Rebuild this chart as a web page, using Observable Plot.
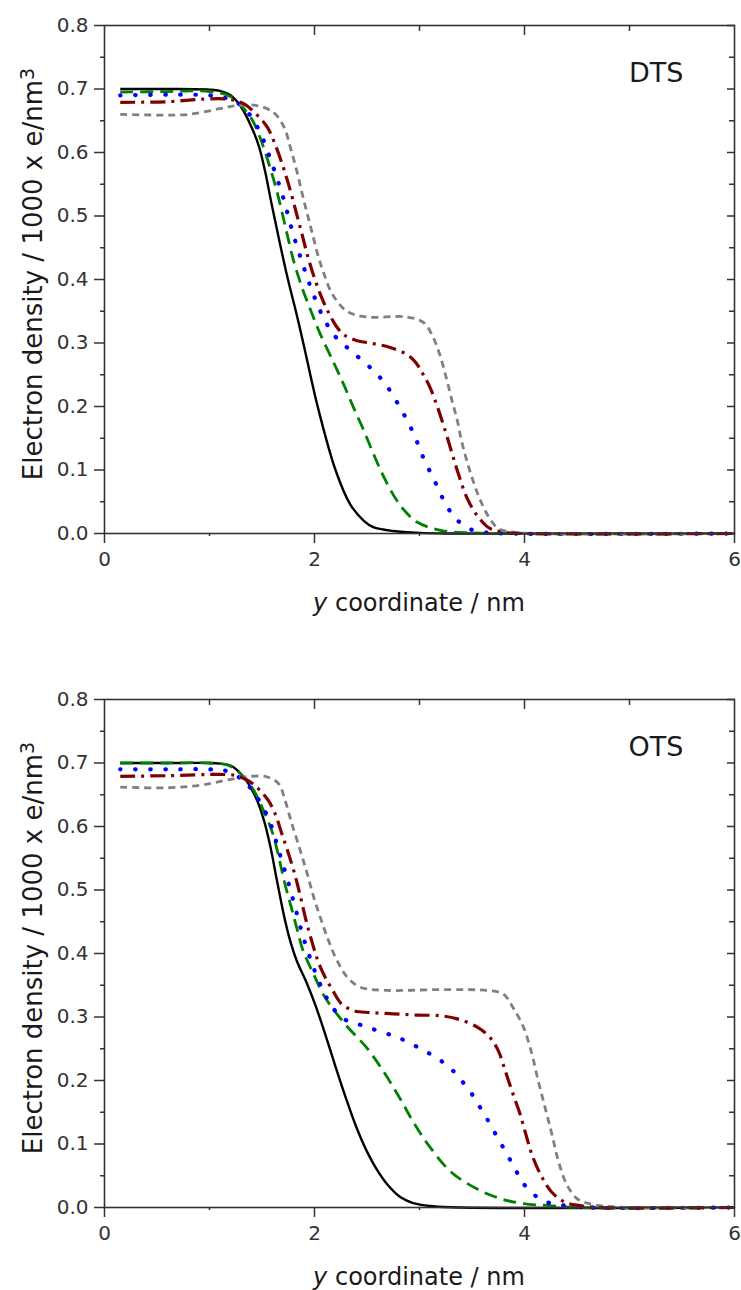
<!DOCTYPE html>
<html>
<head>
<meta charset="utf-8">
<script src="https://cdn.jsdelivr.net/npm/d3@7"></script>
<script src="https://cdn.jsdelivr.net/npm/@observablehq/plot@0.6"></script>
<style>
  html, body { margin: 0; padding: 0; background: #fff; }
  svg { display: block; }
</style>
</head>
<body>
<div id="chart"></div>
<script>
// ---------- tick values ----------
const xMajorTicks = [0, 2, 4, 6];
const xMinorTicks = [1, 3, 5];
const yMajorTicks = [0, 0.1, 0.2, 0.3, 0.4, 0.5, 0.6, 0.7, 0.8];
const yMinorTicks = [0.05, 0.15, 0.25, 0.35, 0.45, 0.55, 0.65, 0.75];
const panelLabels = ["DTS", "OTS"];
const xTitle = ["y", " coordinate / nm"];
const yTitle = ["Electron density / 1000 x e/nm", "3"];

// ---------- DTS panel: [y coordinate (nm), electron density] ----------
const dtsSolid = [[0.15,0.700],[0.6,0.700],[1.0,0.699],[1.1,0.697],[1.2,0.690],[1.3,0.672],[1.4,0.640],[1.47,0.610],[1.53,0.570],[1.59,0.520],[1.66,0.465],[1.74,0.405],[1.83,0.345],[1.9,0.295],[2.03,0.200],[2.2,0.100],[2.34,0.046],[2.47,0.020],[2.56,0.010],[2.75,0.004],[3.0,0.001],[3.3,0],[6,0]];
const dtsDash = [[0.15,0.695],[0.6,0.696],[1.0,0.696],[1.2,0.688],[1.39,0.656],[1.48,0.624],[1.56,0.585],[1.64,0.540],[1.72,0.485],[1.80,0.430],[1.88,0.388],[1.96,0.353],[2.055,0.314],[2.18,0.270],[2.28,0.234],[2.37,0.199],[2.47,0.162],[2.56,0.126],[2.66,0.089],[2.78,0.053],[2.88,0.032],[2.975,0.018],[3.2,0.005],[3.5,0.001],[6,0]];
const dtsDot = [[0.15,0.690],[0.6,0.691],[1.0,0.690],[1.15,0.686],[1.26,0.679],[1.39,0.658],[1.5,0.625],[1.6,0.580],[1.7,0.530],[1.8,0.470],[1.9,0.418],[2.0,0.372],[2.1,0.335],[2.2,0.310],[2.31,0.293],[2.45,0.273],[2.59,0.252],[2.69,0.232],[2.785,0.207],[2.86,0.185],[2.93,0.162],[2.99,0.139],[3.05,0.114],[3.12,0.091],[3.18,0.070],[3.24,0.049],[3.30,0.033],[3.36,0.021],[3.48,0.007],[3.61,0.002],[3.8,0],[6,0]];
const dtsDashDot = [[0.15,0.679],[0.6,0.680],[0.94,0.684],[1.17,0.684],[1.325,0.677],[1.44,0.661],[1.55,0.640],[1.62,0.615],[1.70,0.578],[1.77,0.540],[1.83,0.503],[1.88,0.472],[1.93,0.440],[1.99,0.407],[2.055,0.377],[2.13,0.349],[2.21,0.326],[2.28,0.313],[2.40,0.304],[2.56,0.299],[2.72,0.293],[2.88,0.282],[2.96,0.270],[3.03,0.252],[3.10,0.230],[3.165,0.202],[3.245,0.162],[3.31,0.126],[3.37,0.094],[3.45,0.057],[3.55,0.028],[3.67,0.008],[3.80,0.002],[4.0,0],[6,0]];
const dtsShortDash = [[0.15,0.660],[0.5,0.659],[0.8,0.660],[1.10,0.669],[1.26,0.674],[1.45,0.674],[1.61,0.663],[1.71,0.640],[1.77,0.608],[1.83,0.572],[1.88,0.537],[1.93,0.504],[1.98,0.472],[2.03,0.440],[2.09,0.409],[2.17,0.377],[2.31,0.350],[2.50,0.341],[2.88,0.341],[3.04,0.332],[3.13,0.309],[3.20,0.278],[3.26,0.242],[3.31,0.209],[3.36,0.178],[3.40,0.146],[3.45,0.115],[3.51,0.083],[3.58,0.052],[3.66,0.026],[3.75,0.008],[3.89,0.002],[4.1,0],[6,0]];

// ---------- OTS panel ----------
const otsSolid = [[0.15,0.700],[0.6,0.700],[1.0,0.700],[1.1,0.699],[1.2,0.696],[1.325,0.678],[1.44,0.646],[1.52,0.609],[1.58,0.568],[1.64,0.517],[1.70,0.467],[1.76,0.425],[1.83,0.389],[1.93,0.352],[2.01,0.318],[2.10,0.274],[2.20,0.222],[2.30,0.172],[2.40,0.126],[2.50,0.088],[2.60,0.058],[2.70,0.035],[2.82,0.016],[2.94,0.007],[3.13,0.002],[3.4,0],[6,0]];
const otsDash = [[0.15,0.700],[0.6,0.700],[1.0,0.700],[1.2,0.695],[1.39,0.665],[1.52,0.623],[1.60,0.590],[1.66,0.552],[1.71,0.515],[1.77,0.478],[1.83,0.441],[1.89,0.405],[1.976,0.373],[2.10,0.331],[2.29,0.289],[2.50,0.251],[2.67,0.211],[2.82,0.170],[2.95,0.132],[3.10,0.095],[3.30,0.056],[3.55,0.029],[3.77,0.014],[3.99,0.006],[4.24,0.003],[4.5,0],[6,0]];
const otsDot = [[0.15,0.690],[0.6,0.690],[1.0,0.690],[1.15,0.688],[1.325,0.672],[1.42,0.654],[1.50,0.633],[1.58,0.605],[1.66,0.562],[1.74,0.518],[1.82,0.470],[1.90,0.422],[1.99,0.378],[2.05,0.353],[2.10,0.335],[2.18,0.313],[2.31,0.294],[2.45,0.287],[2.59,0.279],[2.74,0.271],[2.86,0.263],[3.01,0.250],[3.15,0.237],[3.29,0.220],[3.40,0.200],[3.51,0.176],[3.59,0.154],[3.67,0.132],[3.75,0.108],[3.83,0.085],[3.91,0.061],[3.98,0.040],[4.10,0.019],[4.24,0.007],[4.40,0.003],[4.6,0],[6,0]];
const otsDashDot = [[0.15,0.679],[0.6,0.680],[1.10,0.682],[1.26,0.680],[1.39,0.670],[1.48,0.657],[1.56,0.641],[1.63,0.618],[1.69,0.588],[1.755,0.556],[1.82,0.520],[1.87,0.487],[1.92,0.452],[1.98,0.416],[2.04,0.385],[2.10,0.363],[2.17,0.343],[2.25,0.322],[2.37,0.310],[2.53,0.307],[2.75,0.305],[2.975,0.303],[3.20,0.302],[3.36,0.297],[3.55,0.284],[3.67,0.268],[3.75,0.247],[3.815,0.216],[3.89,0.179],[3.96,0.146],[4.02,0.111],[4.08,0.079],[4.165,0.048],[4.26,0.024],[4.39,0.008],[4.53,0.003],[4.7,0],[6,0]];
const otsShortDash = [[0.15,0.662],[0.6,0.661],[0.913,0.665],[1.07,0.670],[1.23,0.675],[1.39,0.679],[1.55,0.678],[1.66,0.667],[1.72,0.641],[1.785,0.604],[1.865,0.562],[1.93,0.526],[1.99,0.490],[2.055,0.457],[2.12,0.426],[2.20,0.394],[2.31,0.363],[2.435,0.347],[2.69,0.342],[3.13,0.343],[3.45,0.343],[3.64,0.342],[3.80,0.336],[3.89,0.315],[3.99,0.284],[4.07,0.242],[4.13,0.200],[4.195,0.158],[4.26,0.116],[4.32,0.075],[4.40,0.037],[4.50,0.014],[4.62,0.006],[4.78,0.002],[5.0,0],[6,0]];

// ---------- styles ----------
const FONT = "'DejaVu Sans', 'Liberation Sans', Arial, sans-serif";
const lineStyles = {
  solid:     {stroke: "#000000", strokeWidth: 2.4, strokeDasharray: null, strokeLinecap: "butt"},
  dash:      {stroke: "#008000", strokeWidth: 2.8, strokeDasharray: "13,7", strokeLinecap: "butt"},
  dot:       {stroke: "#0000ff", strokeWidth: 4.2, strokeDasharray: "0.5,14.5", strokeLinecap: "round"},
  dashdot:   {stroke: "#800000", strokeWidth: 3.2, strokeDasharray: "15,6,3,6", strokeLinecap: "butt"},
  shortdash: {stroke: "#808080", strokeWidth: 2.8, strokeDasharray: "7,5", strokeLinecap: "butt"}
};

function toRows(arr) { return arr.map(([x, y]) => ({x, y})); }

function panel(series, label, height, marginBottom) {
  const marks = [];
  const order = ["solid", "dash", "dot", "shortdash", "dashdot"];
  for (const key of order) {
    const st = lineStyles[key];
    marks.push(Plot.line(toRows(series[key]), {
      x: "x", y: "y", curve: "catmull-rom",
      stroke: st.stroke, strokeWidth: st.strokeWidth,
      strokeDasharray: st.strokeDasharray, strokeLinecap: st.strokeLinecap
    }));
  }
  const axCol = "#333";
  // left axis: labelled major ticks (outward) and minor ticks
  marks.push(Plot.axisY(yMajorTicks, {anchor: "left", tickSize: 10, tickPadding: 6, fontSize: 20, color: axCol, strokeWidth: 1.5, label: null, tickFormat: d3.format(".1f")}));
  marks.push(Plot.axisY(yMinorTicks, {anchor: "left", tickSize: 4, color: axCol, strokeWidth: 1.5, label: null, tickFormat: () => ""}));
  // right axis: inward ticks
  marks.push(Plot.axisY(yMajorTicks, {anchor: "right", tickSize: 8, insetRight: 8, color: axCol, strokeWidth: 1.5, label: null, tickFormat: () => ""}));
  marks.push(Plot.axisY(yMinorTicks, {anchor: "right", tickSize: 6, insetRight: 6, color: axCol, strokeWidth: 1.5, label: null, tickFormat: () => ""}));
  // bottom axis
  marks.push(Plot.axisX(xMajorTicks, {anchor: "bottom", tickSize: 10, tickPadding: 8, fontSize: 20, color: axCol, strokeWidth: 1.5, label: null, tickFormat: d3.format("d")}));
  marks.push(Plot.axisX(xMinorTicks, {anchor: "bottom", tickSize: 3, color: axCol, strokeWidth: 1.5, label: null, tickFormat: () => ""}));
  // top axis: inward ticks
  marks.push(Plot.axisX([2, 4], {anchor: "top", tickSize: 9, insetTop: 9, color: axCol, strokeWidth: 1.5, label: null, tickFormat: () => ""}));
  marks.push(Plot.axisX(xMinorTicks, {anchor: "top", tickSize: 5, insetTop: 5, color: axCol, strokeWidth: 1.5, label: null, tickFormat: () => ""}));
  marks.push(Plot.frame({stroke: axCol, strokeWidth: 1.6}));
  marks.push(Plot.text([label], {frameAnchor: "top-right", textAnchor: "end", lineAnchor: "top", dx: -51, dy: 37, fontSize: 27, fill: "#1a1a1a", text: d => d}));

  const svg = Plot.plot({
    width: 741, height,
    marginTop: 25, marginBottom, marginLeft: 104, marginRight: 7,
    x: {domain: [0, 6]},
    y: {domain: [0, 0.8]},
    style: {fontFamily: FONT, background: "#fff", color: "#1a1a1a"},
    marks
  });

  const s = d3.select(svg);
  // x axis title with italic "y"
  const xt = s.append("text")
    .attr("x", 419).attr("y", 611)
    .attr("text-anchor", "middle")
    .attr("font-size", 24)
    .attr("font-family", FONT)
    .attr("fill", "#1a1a1a");
  xt.append("tspan").attr("font-style", "italic").text(xTitle[0]);
  xt.append("tspan").text(xTitle[1]);
  // y axis title with superscript
  const yt = s.append("text")
    .attr("transform", "translate(33,274) rotate(-90)")
    .attr("text-anchor", "middle")
    .attr("dy", "0.35em")
    .attr("font-size", 26)
    .attr("font-family", FONT)
    .attr("fill", "#1a1a1a");
  yt.append("tspan").text(yTitle[0]);
  yt.append("tspan").attr("dy", "-0.45em").attr("font-size", 19).text(yTitle[1]);
  return svg;
}

const chart = document.getElementById("chart");
chart.appendChild(panel({solid: dtsSolid, dash: dtsDash, dot: dtsDot, dashdot: dtsDashDot, shortdash: dtsShortDash}, panelLabels[0], 674, 141));
chart.appendChild(panel({solid: otsSolid, dash: otsDash, dot: otsDot, dashdot: otsDashDot, shortdash: otsShortDash}, panelLabels[1], 616, 83));
</script>
</body>
</html>
